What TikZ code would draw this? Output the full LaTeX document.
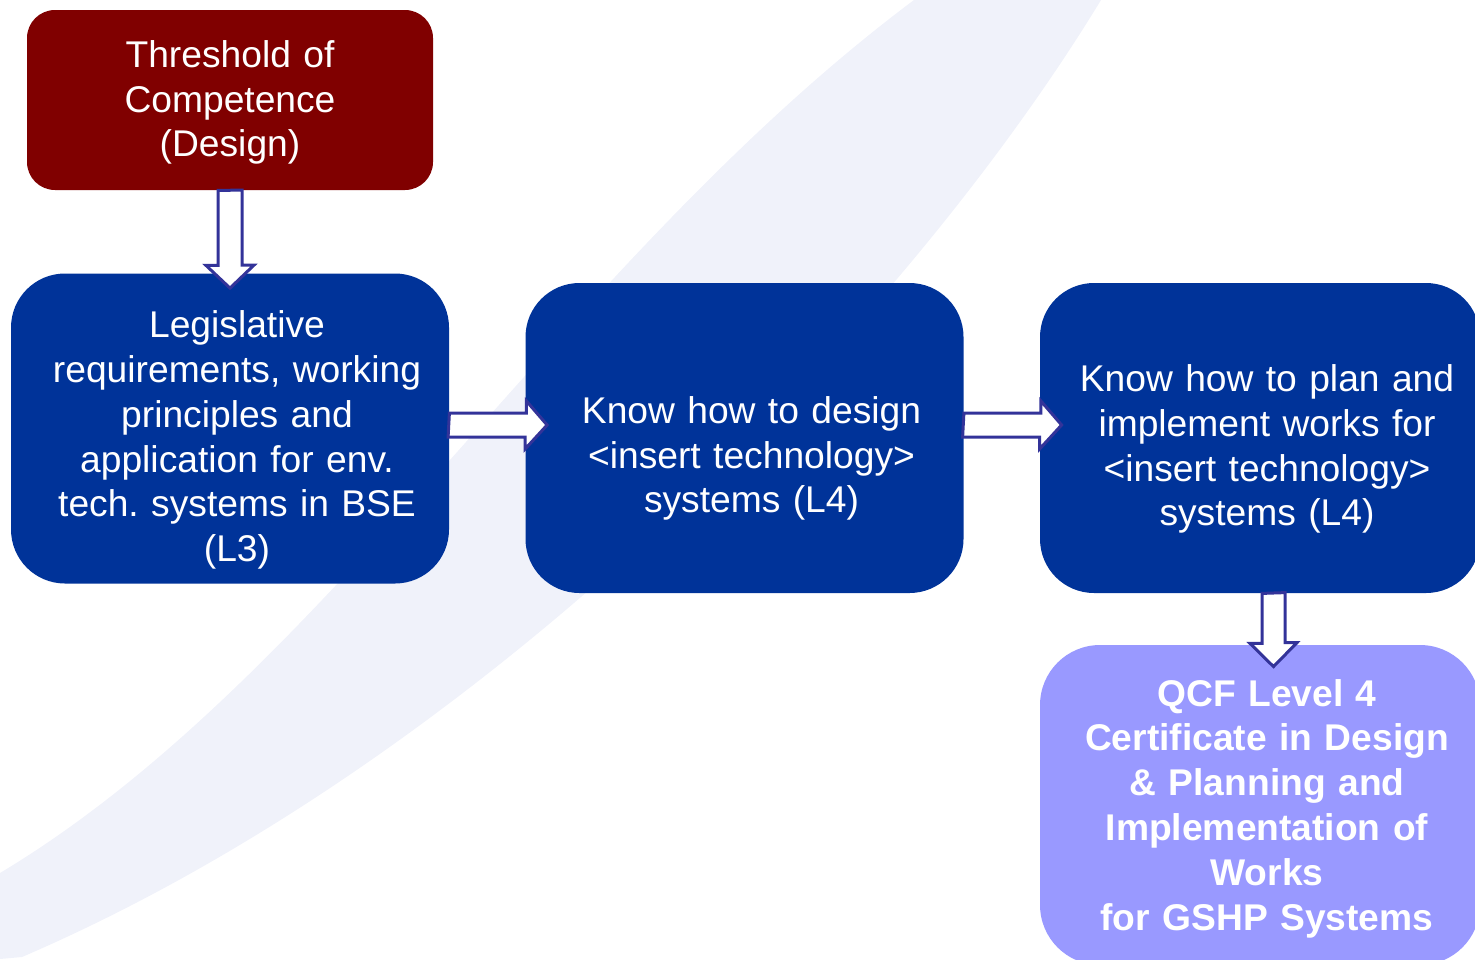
\documentclass[tikz,border=0pt]{standalone}
\usepackage{fontspec}
\setmainfont{Liberation Sans}
\usetikzlibrary{calc}
\definecolor{tcred}{RGB}{128,0,0}
\definecolor{unitblue}{RGB}{0,51,153}
\definecolor{qcfblue}{RGB}{153,153,255}
\definecolor{arrline}{RGB}{51,51,153}
\definecolor{swoosh}{RGB}{240,242,250}
\begin{document}
\begin{tikzpicture}[x=0.5pt,y=-0.5pt,
        box/.style={rounded corners=27pt,inner sep=0pt,text=white,align=center,text width=210pt,
            minimum width=219pt,minimum height=155pt,font=\fontsize{18.6}{22.4}\selectfont},
        rightpad/.style={execute at begin node={\leftskip=7pt plus 1fil\rightskip=0pt plus 1fil\parfillskip=0pt\relax}},
        barrow/.style={draw=arrline,fill=white,line width=1.5pt,line join=miter}]
        \useasboundingbox (0,0) rectangle (1475,959);
        \clip (0,0) rectangle (1475,959);
        % light swoosh in the background
        \fill[swoosh] (0,873) .. controls (330,675) and (564,262) .. (914,0) -- (1101,0)
            .. controls (900,330) and (480,760) .. (22,957) -- (0,959) -- cycle;
        \node[box,fill=tcred,rounded corners=14pt,text width=190pt,minimum width=203pt,minimum height=90pt,text height=16pt] (thr) at (230,100) {Threshold of\\Competence\\(Design)};
        \node[box,rightpad,fill=unitblue,text height=25pt] (leg) at (230,428.5) {Legislative\\requirements, working\\principles and\\application for env.\\tech.\ systems in BSE\\(L3)};
        \node[box,rightpad,fill=unitblue,text height=34pt] (des) at (744.5,438) {Know how to design\\<insert technology>\\systems (L4)};
        \node[box,rightpad,fill=unitblue,text height=24.5pt,minimum width=220pt] (plan) at (1260,438) {Know how to plan and\\implement works for\\<insert technology>\\systems (L4)};
        \node[box,rightpad,fill=qcfblue,font=\fontsize{18.6}{22.4}\selectfont\bfseries,rounded corners=30pt,minimum width=220pt,minimum height=160pt,text height=17pt] (qcf) at (1260,805) {QCF Level 4\\Certificate in Design\\\& Planning and\\Implementation of\\Works\\for GSHP Systems};
        % block arrows
        \draw[barrow] ($(thr.south)+(-12,0)$) -- ++(0,75) -- ++(-12,0) -- ($(leg.north)+(0,15)$) -- ++(24,-23) -- ++(-12,0) -- ++(0,-75) -- cycle;
        \draw[barrow] ($(leg.east)+(0,-15.5)$) -- ++(77,0) -- ++(0,-12) -- ($(des.west)+(22,-13)$) -- ++(-22,24) -- ++(0,-12) -- ++(-77,0) -- cycle;
        \draw[barrow] ($(des.east)+(0,-25)$) -- ++(77,0) -- ++(0,-12) -- ($(plan.west)+(22,-13)$) -- ++(-22,24) -- ++(0,-12) -- ++(-77,0) -- cycle;
        \draw[barrow] ($(plan.south)+(2,0)$) -- ++(0,50) -- ++(-12,0) -- ($(qcf.north)+(13.5,22)$) -- ++(23.5,-24) -- ++(-12,0) -- ++(0,-50) -- cycle;
\end{tikzpicture}
\end{document}
